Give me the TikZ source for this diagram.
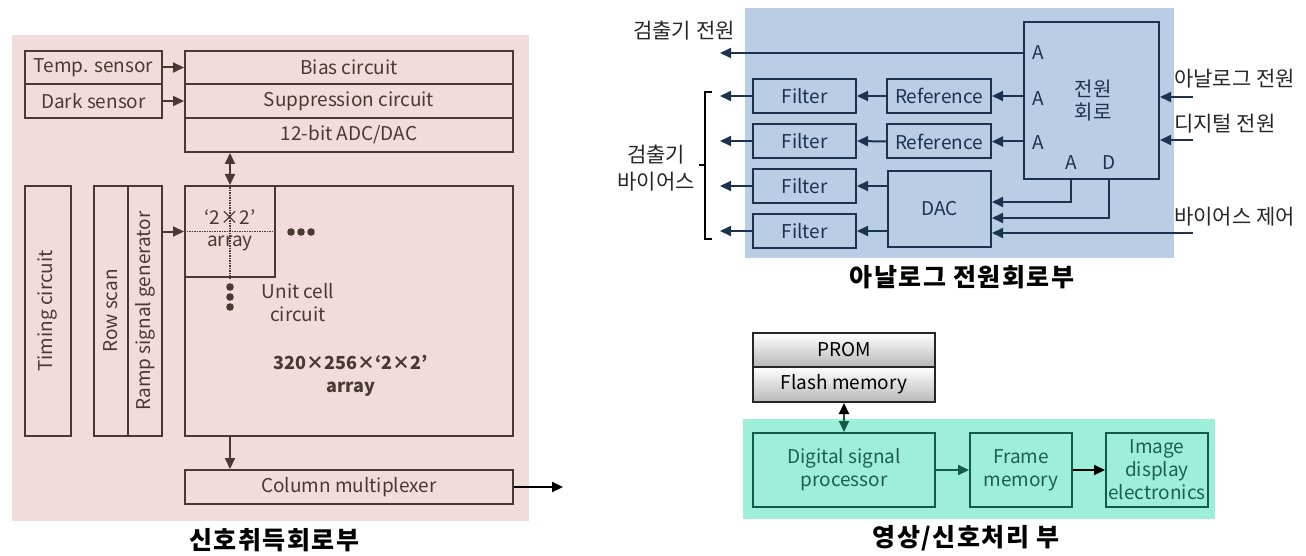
\documentclass[tikz,border=0pt]{standalone}
\usepackage{fontspec}
\setmainfont{Noto Sans CJK KR}
\newfontfamily\ttlfont[LetterSpace=6]{Noto Sans CJK KR}
\usetikzlibrary{arrows.meta}
\definecolor{pinkbg}{HTML}{F2DCDB}
\definecolor{brn}{HTML}{4A3833}
\definecolor{bluebg}{HTML}{B9CDE5}
\definecolor{navy}{HTML}{1C3350}
\definecolor{tealbg}{HTML}{9DEFDA}
\definecolor{tealdk}{HTML}{145A4A}
\definecolor{tealtx}{HTML}{1D5E50}
\begin{document}
\begin{tikzpicture}[x=1pt,y=-1pt,
  txt/.style={font=\fontsize{19}{23}\selectfont, inner sep=0pt, align=center},
  kl/.style={font=\fontsize{21}{27}\selectfont, inner sep=0pt, align=center, text=black!85},
  ttl/.style={font=\ttlfont\fontsize{25}{28}\selectfont\bfseries, inner sep=0pt},
  pbox/.style={txt, draw=brn, line width=2pt, fill=pinkbg, text=brn},
  bbox/.style={txt, draw=navy, line width=2pt, fill=bluebg, text=navy},
  tbox/.style={txt, draw=tealdk, line width=2pt, fill=tealbg, text=tealtx},
  gbox/.style={txt, draw=black!85, line width=2pt, top color=white, bottom color=black!28, text=black},
  tip/.style={-{Triangle[length=11pt,width=10pt]}},
  parr/.style={tip, draw=brn, line width=2pt},
  barr/.style={tip, draw=navy, line width=2pt},
  tarr/.style={tip, draw=tealdk, line width=2pt}]
\useasboundingbox (0,0) rectangle (1306,556);
% ---------- left panel ----------
\fill[pinkbg] (12,35) rectangle (529,521);
\node[pbox, minimum width=137pt, minimum height=33pt] (temp) at (93.5,67.5) {Temp. sensor};
\node[pbox, minimum width=137pt, minimum height=34pt] (dark) at (93.5,101) {Dark sensor};
\node[pbox, minimum width=328pt, minimum height=33pt] (bias) at (349,67.5) {Bias circuit};
\node[pbox, minimum width=328pt, minimum height=34pt] (supp) at (349,101) {Suppression circuit};
\node[pbox, minimum width=328pt, minimum height=34pt] (adc) at (349,135) {12-bit ADC/DAC};
\node[pbox, minimum width=328pt, minimum height=250pt] (array) at (349,311) {};
\node[pbox, minimum width=90pt, minimum height=91pt] (cell) at (230,231.5) {};
\node[pbox, minimum width=250pt, minimum height=46pt, rotate=90] (timing) at (48,311) {Timing circuit};
\node[pbox, minimum width=250pt, minimum height=34pt, rotate=90] (row) at (111,311) {Row scan};
\node[pbox, minimum width=250pt, minimum height=34pt, rotate=90] (ramp) at (145,311) {Ramp signal generator};
\node[pbox, minimum width=328pt, minimum height=34pt] (colmux) at (349,487) {Column multiplexer};
\draw[brn, line width=1.5pt, densely dotted] (cell.west) -- (cell.east);
\draw[brn, line width=1.5pt, densely dotted] (cell.north) -- (cell.south);
\node[txt, text=brn] (c22) at (230,217) {‘2×2’};
\node[txt, text=brn] (carr) at (230,243) {array};
\foreach \xx in {291,301,311} \fill[brn] (\xx,232) circle (3.8pt);
\foreach \yy in {287,297,307} \fill[brn] (230,\yy) circle (3.8pt);
\node[txt, text=brn] (unit) at (298,303) {Unit cell\\circuit};
\node[txt, text=brn, font=\fontsize{18}{23}\selectfont\bfseries] (big) at (351,376) {320×256×‘2×2’\\array};
\draw[parr] (temp.east) -- (bias.west);
\draw[parr] (dark.east) -- (supp.west);
\draw[parr, {Triangle[length=11pt,width=10pt]}-{Triangle[length=11pt,width=10pt]}] (cell.north |- adc.south) -- (cell.north);
\draw[parr] (ramp.south |- cell.west) -- (cell.west);
\draw[parr] (cell.south |- array.south) -- (cell.south |- colmux.north);
\coordinate (out) at (563,487);
\draw[tip, line width=2pt, black] (colmux.east) -- (out);
\node[ttl] (t1) at (274,540) {신호취득회로부};
% ---------- top right panel ----------
\fill[bluebg] (745,8) rectangle (1174,258);
\node[bbox, minimum width=135pt, minimum height=157pt] (pwr) at (1091.5,100.5) {};
\node[kl, text=navy, font=\fontsize{20}{23}\selectfont] (pname) at (1093,101) {전원\\회로};
\node[txt, text=navy] (a1) at (1038,53) {A};
\node[txt, text=navy] (a2) at (1038,99) {A};
\node[txt, text=navy] (a3) at (1038,143) {A};
\node[txt, text=navy] (pa) at (1071,163) {A};
\node[txt, text=navy] (pd) at (1109,163) {D};
\node[bbox, minimum width=104pt, minimum height=34pt] (ref1) at (939,96) {Reference};
\node[bbox, minimum width=104pt, minimum height=34pt] (ref2) at (939,141.5) {Reference};
\node[bbox, minimum width=103pt, minimum height=76pt] (dac) at (939.5,209) {DAC};
\node[bbox, minimum width=103pt, minimum height=34pt] (f1) at (804.5,96) {Filter};
\node[bbox, minimum width=103pt, minimum height=34pt] (f2) at (804.5,141) {Filter};
\node[bbox, minimum width=103pt, minimum height=34pt] (f3) at (804.5,186) {Filter};
\node[bbox, minimum width=103pt, minimum height=34pt] (f4) at (804.5,231) {Filter};
\coordinate (tdet) at (720,53);
\draw[barr] (pwr.west |- tdet) -- (tdet);
\draw[barr] (pwr.west |- ref1.east) -- (ref1.east);
\draw[barr] (pwr.west |- ref2.east) -- (ref2.east);
\draw[barr] (ref1.west) -- (f1.east);
\draw[barr] (ref2.west) -- (f2.east);
\draw[barr] (dac.west |- f3.east) -- (f3.east);
\draw[barr] (dac.west |- f4.east) -- (f4.east);
\foreach \f in {f1,f2,f3,f4} \draw[barr] (\f.west) -- (\f.west -| tdet);
\draw[barr] (pa |- pwr.south) |- ([yshift=7pt]dac.east);
\draw[barr] (pd |- pwr.south) |- ([yshift=-9pt]dac.east);
\coordinate (ain) at (1193,97);
\coordinate (din) at (1193,140);
\coordinate (bin) at (1193,233);
\draw[barr] (ain) -- (ain -| pwr.east);
\draw[barr] (din) -- (din -| pwr.east);
\draw[barr] (bin) -- (bin -| dac.east);
\node[kl, anchor=west] (lain) at (1174,79) {아날로그 전원};
\node[kl, anchor=west] (ldin) at (1174,124) {디지털 전원};
\node[kl, anchor=west] (lbin) at (1174,217) {바이어스 제어};
\node[kl] (ldet) at (684,31) {검출기 전원};
\draw[black, line width=1.6pt] (712,92) -- (705,92) -- (705,239) -- (712,239);
\draw[black, line width=1.6pt] (705,165) -- (699,165);
\node[kl] (lbias) at (656,168) {검출기\\바이어스};
\node[ttl] (t2) at (962,277) {아날로그 전원회로부};
% ---------- bottom right panel ----------
\fill[tealbg] (743,419) rectangle (1215,519);
\node[gbox, minimum width=182pt, minimum height=34pt] (prom) at (844,350) {PROM};
\node[gbox, minimum width=182pt, minimum height=35pt] (flash) at (844,384.5) {Flash memory};
\node[tbox, minimum width=182pt, minimum height=74pt] (dsp) at (844,470) {Digital signal\\processor};
\node[tbox, minimum width=102pt, minimum height=74pt] (frame) at (1021,470) {Frame\\memory};
\node[tbox, minimum width=102pt, minimum height=74pt] (img) at (1157,470) {Image\\display\\electronics};
\draw[tealdk, line width=2pt, {Triangle[length=11pt,width=10pt,color=black]}-{Triangle[length=11pt,width=10pt]}] (flash.south) -- (dsp.north);
\draw[tarr] (dsp.east) -- (frame.west);
\draw[tip, black, line width=2pt] (frame.east) -- (img.west);
\node[ttl] (t3) at (966,538) {영상/신호처리 부};
\end{tikzpicture}
\end{document}
